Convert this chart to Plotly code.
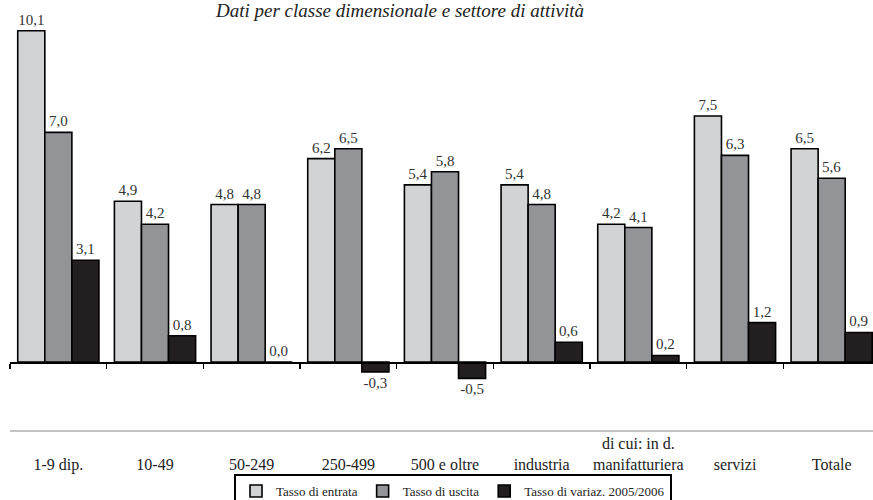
import plotly.graph_objects as go

categories = ["1-9 dip.", "10-49", "50-249", "250-499", "500 e oltre",
              "industria", "di cui: in d.<br>manifatturiera", "servizi", "Totale"]
entrata = [10.1, 4.9, 4.8, 6.2, 5.4, 5.4, 4.2, 7.5, 6.5]
uscita = [7.0, 4.2, 4.8, 6.5, 5.8, 4.8, 4.1, 6.3, 5.6]
variaz = [3.1, 0.8, 0.0, -0.3, -0.5, 0.6, 0.2, 1.2, 0.9]
series_names = ["Tasso di entrata", "Tasso di uscita", "Tasso di variaz. 2005/2006"]
colors = ["#d2d3d5", "#939497", "#231f20"]

W, H = 873, 500
plot_left, plot_right = 10, 873
plot_top, plot_bot = 20, 430
zero_px = 362
px_per_unit = 32.8
ymax = (zero_px - plot_top) / px_per_unit
ymin = -(plot_bot - zero_px) / px_per_unit
zero_frac = (0 - ymin) / (ymax - ymin)

slot_px = 870 / 9.0
xr = [-0.5, 8.5 - (plot_left + 870 - plot_right) / slot_px]

def fmt(v):
    return f"{v:.1f}".replace(".", ",")

def ticklab(c):
    return c if "<br>" in c else "\u00a0<br>" + c

xpos = list(range(len(categories)))

fig = go.Figure()
for name, vals, col in zip(series_names, [entrata, uscita, variaz], colors):
    fig.add_trace(go.Bar(
        x=xpos, y=vals, name=name,
        marker=dict(color=col, line=dict(color="#000000", width=1.6)),
        text=[fmt(v) for v in vals], textposition="outside",
        constraintext="none", cliponaxis=False,
        textfont=dict(family="Liberation Serif", size=15, color="#333333"),
        hoverinfo="skip",
    ))

# invisible trace to carry the zero-line axis
fig.add_trace(go.Scatter(x=[0], y=[0], xaxis="x2", yaxis="y", mode="markers",
                         marker=dict(opacity=0), showlegend=False, hoverinfo="skip"))

fig.update_layout(
    width=W, height=H,
    margin=dict(l=plot_left, r=W - plot_right, t=plot_top, b=H - plot_bot, pad=0,
                autoexpand=False),
    paper_bgcolor="white", plot_bgcolor="white",
    barmode="group", bargap=0.16, bargroupgap=0,
    hovermode=False,
    title=dict(text="<i>Dati per classe dimensionale e settore di attività</i>",
               font=dict(family="Liberation Serif", size=19, color="#222222"),
               x=400 / W, xanchor="center", xref="container",
               y=1 - 4.0 / H, yanchor="top", yref="container", pad=dict(t=0, b=0)),
    xaxis=dict(range=xr, tickmode="array", tickvals=xpos,
               ticktext=[ticklab(c) for c in categories],
               tickfont=dict(family="Liberation Serif", size=16, color="#222222"),
               showline=True, linecolor="#c4c4c4", linewidth=2,
               ticks="", showgrid=False, zeroline=False, ticklabelstandoff=-2),
    xaxis2=dict(range=xr, overlaying="x", anchor="free",
                position=zero_frac, side="bottom",
                tickmode="array", tickvals=[i - 0.5 for i in range(len(categories) + 1)],
                ticks="outside", ticklen=5, tickwidth=1.5, tickcolor="#000000",
                showticklabels=False, showline=True, linecolor="#000000", linewidth=1.5,
                showgrid=False, zeroline=False),
    yaxis=dict(range=[ymin, ymax], visible=False, showgrid=False, zeroline=False),
    legend=dict(orientation="h", x=(453 - plot_left) / (plot_right - plot_left), xanchor="center",
                y=-(474 - plot_bot) / (plot_bot - plot_top),
                yanchor="top", bordercolor="#000000", borderwidth=2,
                font=dict(family="Liberation Serif", size=13, color="#222222")),
    showlegend=True,
)

fig.write_html("out.html",
               config={"displayModeBar": False, "staticPlot": True},
               post_script="document.body.style.margin='0';"
                           "document.documentElement.style.overflow='hidden';")
